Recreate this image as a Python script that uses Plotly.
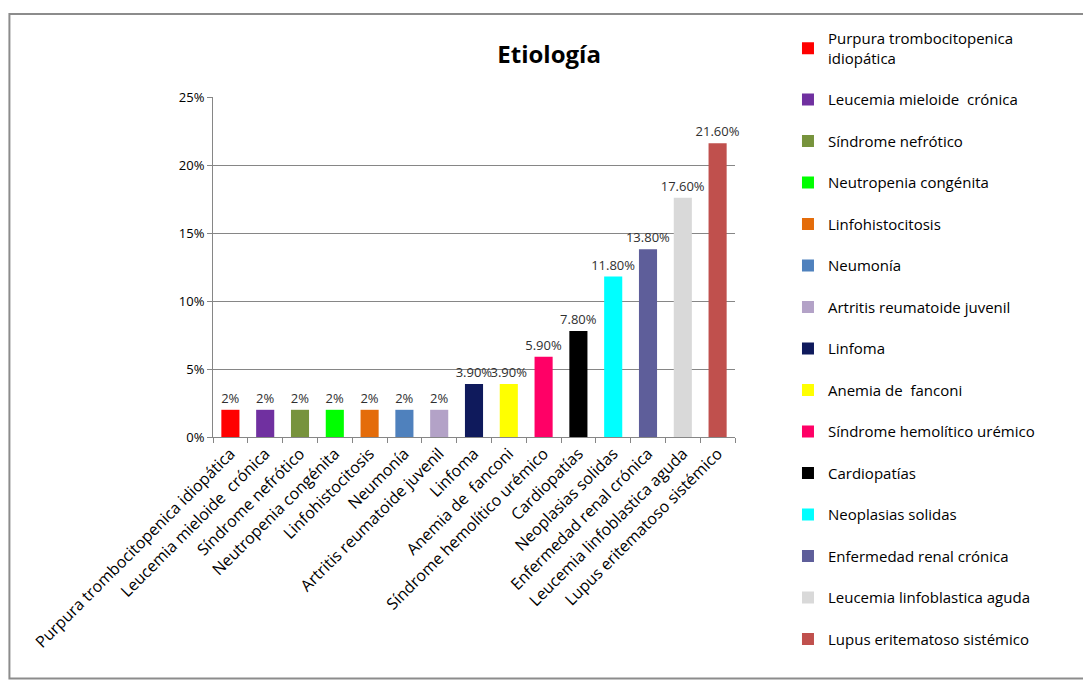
import plotly.graph_objects as go

categories = [
    "Purpura trombocitopenica idiopática",
    "Leucemia mieloide  crónica",
    "Síndrome nefrótico",
    "Neutropenia congénita",
    "Linfohistocitosis",
    "Neumonía",
    "Artritis reumatoide juvenil",
    "Linfoma",
    "Anemia de  fanconi",
    "Síndrome hemolítico urémico",
    "Cardiopatías",
    "Neoplasias solidas",
    "Enfermedad renal crónica",
    "Leucemia linfoblastica aguda",
    "Lupus eritematoso sistémico",
]
legend_names = [
    "Purpura trombocitopenica<br>idiopática",
    "Leucemia mieloide  crónica",
    "Síndrome nefrótico",
    "Neutropenia congénita",
    "Linfohistocitosis",
    "Neumonía",
    "Artritis reumatoide juvenil",
    "Linfoma",
    "Anemia de  fanconi",
    "Síndrome hemolítico urémico",
    "Cardiopatías",
    "Neoplasias solidas",
    "Enfermedad renal crónica",
    "Leucemia linfoblastica aguda",
    "Lupus eritematoso sistémico",
]
values = [2, 2, 2, 2, 2, 2, 2, 3.9, 3.9, 5.9, 7.8, 11.8, 13.8, 17.6, 21.6]
value_labels = ["2%", "2%", "2%", "2%", "2%", "2%", "2%", "3.90%", "3.90%",
                "5.90%", "7.80%", "11.80%", "13.80%", "17.60%", "21.60%"]
colors = ["#FF0000", "#7030A0", "#77933C", "#00FF00", "#E46C0A", "#4F81BD",
          "#B3A2C7", "#0F1A5C", "#FFFF00", "#FF0066", "#000000", "#00FFFF",
          "#5E5E9A", "#D9D9D9", "#C0504D"]
y_ticks = [0, 5, 10, 15, 20, 25]

FONT = "Open Sans"
fig = go.Figure()
for i, cat in enumerate(categories):
    fig.add_trace(go.Bar(
        x=[cat], y=[values[i]], name=legend_names[i],
        marker=dict(color=colors[i], line=dict(width=0)),
        text=[value_labels[i]], textposition="outside", cliponaxis=False,
        constraintext="none",
        textfont=dict(family=FONT, size=13, color="#303030"),
        legendgroup=f"g{i}", width=0.52,
    ))

fig.update_layout(
    width=1083, height=682,
    margin=dict(l=213, r=348, t=97, b=245),
    paper_bgcolor="white", plot_bgcolor="white",
    barmode="overlay",
    title=dict(text="<b>Etiología</b>", x=0.507, xref="container", xanchor="center",
               y=0.92, yref="container", yanchor="middle",
               font=dict(family=FONT, size=24, color="#000000")),
    showlegend=True,
    legend=dict(x=1.1015, xanchor="left", y=1.22, yanchor="top",
                font=dict(family=FONT, size=15, color="#000000"),
                tracegroupgap=19, itemwidth=30, bgcolor="rgba(0,0,0,0)",
                maxheight=1.0),
    font=dict(family=FONT),
    shapes=[dict(type="rect", xref="paper", yref="paper",
                 x0=-0.39, x1=1.68, y0=-0.71, y1=1.244,
                 line=dict(color="#8C8C8C", width=2), layer="below")],
)
fig.update_xaxes(
    tickangle=-45, tickfont=dict(family=FONT, size=16, color="#000000"),
    showline=True, linecolor="#868686", linewidth=1,
    ticks="outside", tickson="boundaries", ticklen=5, tickcolor="#868686",
    showgrid=False, categoryorder="array", categoryarray=categories,
)
fig.update_yaxes(
    range=[0, 25], tickvals=y_ticks, ticktext=[f"{v}%" for v in y_ticks],
    tickfont=dict(family=FONT, size=13, color="#000000"),
    showline=True, linecolor="#868686", linewidth=1,
    ticks="outside", ticklen=5, tickcolor="#868686",
    showgrid=True, gridcolor="#868686", gridwidth=1, zeroline=False,
)
fig.write_html("out.html")
